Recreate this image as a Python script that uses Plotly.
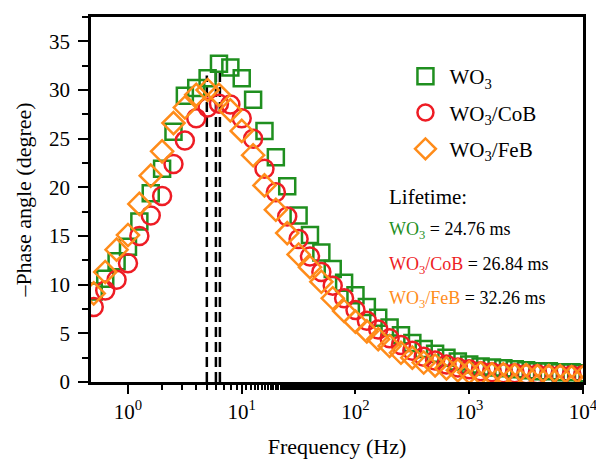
import math
import plotly.graph_objects as go

freq = [0.5, 0.631, 0.794, 1.0, 1.259, 1.585, 1.995, 2.512, 3.162, 3.981,
        5.012, 6.31, 7.943, 10.0, 12.59, 15.85, 19.95, 25.12, 31.62, 39.81,
        50.12, 63.1, 79.43, 100.0, 125.9, 158.5, 199.5, 251.2, 316.2, 398.1,
        501.2, 631.0, 794.3, 1000.0, 1259, 1585, 1995, 2512, 3162, 3981,
        5012, 6310, 7943, 10000]

wo3 = [9.3, 10.6, 12.4, 13.9, 16.5, 19.4, 21.9, 25.7, 29.4, 30.2,
       31.2, 32.7, 32.3, 31.2, 29.0, 25.8, 23.1, 20.1, 17.1, 15.1,
       13.3, 11.6, 10.2, 8.9, 7.7, 6.6, 5.6, 4.8, 4.0, 3.4,
       2.9, 2.5, 2.1, 1.8, 1.6, 1.5, 1.4, 1.3, 1.2, 1.1,
       1.1, 1.0, 1.0, 0.9]

wo3_cob = [7.7, 9.4, 10.5, 12.2, 15.0, 17.1, 19.1, 22.4, 24.8, 27.1,
           28.2, 28.6, 28.5, 27.1, 25.0, 21.9, 19.5, 17.0, 14.7, 12.9,
           11.3, 9.9, 8.6, 7.4, 6.3, 5.4, 4.5, 3.8, 3.2, 2.6,
           2.2, 1.8, 1.5, 1.3, 1.1, 1.0, 0.9, 0.9, 0.8, 0.8,
           0.7, 0.7, 0.7, 0.7]

wo3_feb = [9.1, 11.3, 13.6, 15.1, 18.3, 21.2, 23.7, 26.6, 28.2, 29.5,
           30.0, 29.5, 27.9, 25.8, 23.3, 20.2, 17.7, 15.3, 13.1, 11.8,
           10.3, 8.6, 7.3, 6.2, 5.2, 4.4, 3.7, 3.0, 2.5, 2.0,
           1.7, 1.4, 1.2, 1.0, 0.9, 0.8, 0.8, 0.7, 0.7, 0.6,
           0.6, 0.6, 0.5, 0.5]

series_names = ["WO<sub>3</sub>", "WO<sub>3</sub>/CoB", "WO<sub>3</sub>/FeB"]
lifetimes_ms = [24.76, 26.84, 32.26]
line_tops = [32.2, 31.8, 31.5]

x_tickvals = [1, 10, 100, 1000, 10000]
x_ticktext = ["10<sup>0</sup>", "10<sup>1</sup>", "10<sup>2</sup>", "10<sup>3</sup>", "10<sup>4</sup>"]
y_tickvals = [0, 5, 10, 15, 20, 25, 30, 35]

colors = ["#1f8f1f", "#ee1c24", "#ff8c1a"]
symbols = ["square-open", "circle-open", "diamond-open"]
sizes = [16, 18, 17]

FONT = "Liberation Serif, Times New Roman, serif"

fig = go.Figure()

# dashed lifetime lines at f = 1/(2*pi*tau)
for tau, top in zip(lifetimes_ms, line_tops):
    f = 1.0 / (2 * math.pi * tau / 1000.0)
    fig.add_trace(go.Scatter(x=[f, f], y=[0, top], mode="lines",
                             line=dict(color="black", width=2.5, dash="10px,5px"),
                             showlegend=False, hoverinfo="skip"))

for name, vals, c, s, sz in zip(series_names, [wo3, wo3_cob, wo3_feb], colors, symbols, sizes):
    fig.add_trace(go.Scatter(x=freq, y=vals, mode="markers", name=name,
                             legendgroup=name,
                             marker=dict(symbol=s, size=sz, color=c,
                                         line=dict(color=c, width=2.5))))

fig.update_layout(
    width=596, height=459,
    margin=dict(l=91, r=13, t=17, b=77),
    paper_bgcolor="white", plot_bgcolor="white",
    font=dict(family=FONT, size=20, color="black"),
    legend=dict(x=0.631, y=0.893, xanchor="left", yanchor="top",
                bgcolor="rgba(0,0,0,0)", traceorder="grouped",
                tracegroupgap=6, itemwidth=38, font=dict(size=21)),
    xaxis=dict(type="log", range=[math.log10(0.473), 4.0003], automargin=False,
               showline=True, linecolor="black", linewidth=2.5, mirror=True,
               ticks="outside", ticklen=9, tickwidth=2, tickcolor="black",
               tickvals=x_tickvals, ticktext=x_ticktext, ticklabeloverflow="allow",
               minor=dict(ticks="outside", ticklen=5, tickwidth=1.5, tickcolor="black", showgrid=False),
               showgrid=False, zeroline=False,
               tickfont=dict(size=21),
               title=dict(text="Frequency (Hz)", font=dict(size=22), standoff=18)),
    yaxis=dict(range=[0, 37.5], automargin=False,
               showline=True, linecolor="black", linewidth=2.5, mirror=True,
               ticks="outside", ticklen=10, tickwidth=2, tickcolor="black",
               tickvals=y_tickvals, ticklabelstandoff=4,
               minor=dict(ticks="outside", ticklen=6, tickwidth=1.5, tickcolor="black",
                          dtick=2.5, showgrid=False),
               showgrid=False, zeroline=False,
               tickfont=dict(size=21),
               title=dict(text="\u2013Phase angle (degree)", font=dict(size=22), standoff=12)),
)

ann_y = [0.416, 0.318, 0.225]
fig.add_annotation(x=0.6016, y=0.507, xref="paper", yref="paper", xanchor="left", yanchor="middle",
                   text="Lifetime:", showarrow=False, font=dict(size=21, color="black"))
for name, tau, c, yy in zip(series_names, lifetimes_ms, colors, ann_y):
    fig.add_annotation(x=0.6016, y=yy, xref="paper", yref="paper", xanchor="left", yanchor="middle",
                       text=f"<span style='color:{c}'>{name}</span> = {tau:.2f} ms",
                       showarrow=False, font=dict(size=18, color="black"))

fig.write_html("out.html")
